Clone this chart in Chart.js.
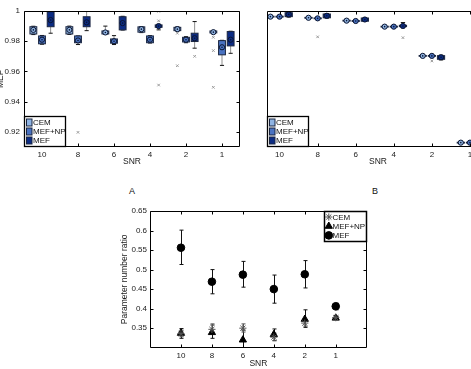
<!DOCTYPE html>
<html><head><meta charset="utf-8">
<script src="https://cdn.jsdelivr.net/npm/chart.js@4/dist/chart.umd.min.js"></script>
<style>
html,body{margin:0;padding:0;background:#fff;width:471px;height:369px;overflow:hidden;position:relative;font-family:"Liberation Sans",Arial,sans-serif;}
.pane{position:absolute;}
.pane canvas{display:block;}
.lab{position:absolute;font-size:9px;color:#111;transform:translate(-50%,-50%);}
</style></head><body>
<div class="pane" style="left:-4px;top:0;width:254px;height:170px"><canvas id="ca" width="254" height="170"></canvas></div>
<div class="pane" style="left:262px;top:0;width:240px;height:170px"><canvas id="cb" width="240" height="170"></canvas></div>
<div class="pane" style="left:110px;top:200px;width:270px;height:169px"><canvas id="cc" width="270" height="169"></canvas></div>
<div class="lab" style="left:132px;top:191px">A</div>
<div class="lab" style="left:375px;top:191px">B</div>
<script>
// ---------- shared ----------
const snrLabels = ['10','8','6','4','2','1'];
const methodNames = ['CEM','MEF+NP','MEF'];
const methodColors = ['#8fb4e3','#4a73c2','#0c2c84'];

// ---------- Panel A (MEF box plots) ----------
const aYTicks = [0.92,0.94,0.96,0.98,1];
const aCemQ1  = [0.9848,0.9848,0.9848,0.9860,0.9870,0.9855];
const aCemMed = [0.9875,0.9875,0.9858,0.9880,0.9880,0.9860];
const aCemQ3  = [0.9896,0.9896,0.9868,0.9895,0.9892,0.9868];
const aCemLo  = [0.9844,0.9845,0.9845,0.9857,0.9867,0.9851];
const aCemHi  = [0.9899,0.9900,0.9900,0.9897,0.9895,0.9871];
const aCemOut = [[],[],[],[],[0.9853,0.9638],[0.9826,0.9738,0.9495]];

const aNpQ1  = [0.9783,0.9790,0.9787,0.9790,0.9795,0.9710];
const aNpMed = [0.9810,0.9805,0.9800,0.9810,0.9810,0.9760];
const aNpQ3  = [0.9835,0.9835,0.9815,0.9835,0.9826,0.9804];
const aNpLo  = [0.9780,0.9778,0.9778,0.9788,0.9790,0.9640];
const aNpHi  = [0.9838,0.9835,0.9837,0.9837,0.9830,0.9806];
const aNpOut = [[],[0.9197],[],[],[],[]];

const aMefQ1  = [0.9896,0.9896,0.9875,0.9892,0.9798,0.9769];
const aMefMed = [0.9940,0.9925,0.9920,0.9900,0.9820,0.9810];
const aMefQ3  = [0.9995,0.9962,0.9962,0.9908,0.9853,0.9864];
const aMefLo  = [0.9853,0.9870,0.9874,0.9875,0.9754,0.9720];
const aMefHi  = [1.0000,0.9998,0.9965,0.9912,0.9930,0.9866];
const aMefOut = [[],[],[],[0.9998,0.9935,0.9510],[0.9700],[]];

// ---------- Panel B (box plots, no y labels) ----------
const bCemQ1  = [0.9911,0.9894,0.9852,0.9764,0.9334,0.8058];
const bCemMed = [0.9917,0.9900,0.9858,0.9770,0.9340,0.8064];
const bCemQ3  = [0.9923,0.9906,0.9864,0.9776,0.9346,0.8070];
const bCemLo  = [0.9905,0.9888,0.9846,0.9758,0.9328,0.8052];
const bCemHi  = [0.9929,0.9912,0.9870,0.9782,0.9352,0.8076];
const bCemOut = [[],[],[],[],[],[]];

const bNpQ1  = [0.9911,0.9886,0.9847,0.9764,0.9334,0.8058];
const bNpMed = [0.9917,0.9892,0.9853,0.9770,0.9340,0.8064];
const bNpQ3  = [0.9923,0.9898,0.9859,0.9776,0.9346,0.8070];
const bNpLo  = [0.9905,0.9880,0.9841,0.9758,0.9328,0.8052];
const bNpHi  = [0.9929,0.9904,0.9865,0.9782,0.9352,0.8076];
const bNpOut = [[],[0.9620],[],[],[0.9265],[]];

const bMefQ1  = [0.9917,0.9900,0.9850,0.9770,0.9290,0.8040];
const bMefMed = [0.9950,0.9930,0.9875,0.9780,0.9320,0.8060];
const bMefQ3  = [0.9975,0.9956,0.9897,0.9790,0.9343,0.8080];
const bMefLo  = [0.9910,0.9895,0.9848,0.9755,0.9280,0.8030];
const bMefHi  = [0.9980,0.9960,0.9900,0.9830,0.9350,0.8090];
const bMefOut = [[],[],[],[0.9608],[],[]];

// ---------- Panel C (parameter number ratio) ----------
const cYTicks = [0.35,0.4,0.45,0.5,0.55,0.6,0.65];
const cCem   = [0.336,0.347,0.350,0.327,0.363,0.377];
const cCemLo = [0.328,0.338,0.340,0.318,0.355,0.373];
const cCemHi = [0.345,0.361,0.361,0.337,0.372,0.381];
const cNp    = [0.337,0.339,0.320,0.334,0.373,0.376];
const cNpLo  = [0.324,0.324,0.296,0.318,0.352,0.372];
const cNpHi  = [0.349,0.358,0.345,0.348,0.397,0.380];
const cMef   = [0.556,0.469,0.487,0.450,0.488,0.406];
const cMefLo = [0.513,0.438,0.455,0.414,0.453,0.397];
const cMefHi = [0.601,0.500,0.521,0.486,0.523,0.414];

// ---------- helpers ----------
const FAMILY = '"Liberation Sans", Arial, Helvetica, sans-serif';
Chart.defaults.font.family = FAMILY;
Chart.defaults.font.size = 8;
Chart.defaults.color = '#1a1a1a';
const catPositions = snrLabels.map((_, i) => i + 1);
const fixedTicks = vals => scale => { scale.ticks = vals.map(v => ({value: v})); };
const fmtNum = v => String(+(+v).toFixed(2));
const snrOf = v => { const k = Math.round(v) - 1; return Math.abs(v - k - 1) < 1e-6 && snrLabels[k] !== undefined ? snrLabels[k] : ''; };

function framePlugin(xVals, yVals, len) {
  return { id: 'frame', afterDatasetsDraw(chart) {
    const {ctx, chartArea: a, scales: {x, y}} = chart;
    const L = Math.round(a.left) + 0.5, R = Math.round(a.right) - 0.5;
    const T = Math.round(a.top) + 0.5, B = Math.round(a.bottom) - 0.5;
    ctx.save();
    ctx.strokeStyle = '#000'; ctx.lineWidth = 1;
    ctx.beginPath(); ctx.rect(L, T, R - L, B - T); ctx.stroke();
    ctx.beginPath();
    xVals.forEach(v => { const p = Math.round(x.getPixelForValue(v)) + 0.5;
      ctx.moveTo(p, B); ctx.lineTo(p, B - len); ctx.moveTo(p, T); ctx.lineTo(p, T + len); });
    yVals.forEach(v => { const p = Math.round(y.getPixelForValue(v)) + 0.5;
      ctx.moveTo(L, p); ctx.lineTo(L + len, p); ctx.moveTo(R, p); ctx.lineTo(R - len, p); });
    ctx.stroke();
    ctx.restore();
  }};
}

function boxPlugin(series, offsets, boxW) {
  return { id: 'boxes',
    beforeDatasetsDraw(chart) {
      const {ctx, chartArea: a, scales: {x, y}} = chart;
      const half = Math.abs(x.getPixelForValue(1 + boxW / 2) - x.getPixelForValue(1));
      ctx.save();
      ctx.beginPath(); ctx.rect(a.left, a.top, a.width, a.height); ctx.clip();
      series.forEach((s, si) => s.med.forEach((m, i) => {
        const cx = x.getPixelForValue(i + 1 + offsets[si]);
        const yq1 = y.getPixelForValue(s.q1[i]), yq3 = y.getPixelForValue(s.q3[i]);
        const ylo = y.getPixelForValue(s.lo[i]), yhi = y.getPixelForValue(s.hi[i]);
        ctx.lineWidth = 1;
        ctx.strokeStyle = '#8f8f8f';
        ctx.beginPath(); ctx.moveTo(cx, yhi); ctx.lineTo(cx, yq3); ctx.moveTo(cx, yq1); ctx.lineTo(cx, ylo); ctx.stroke();
        ctx.strokeStyle = '#111';
        const cw = half * 0.6;
        ctx.beginPath(); ctx.moveTo(cx - cw, yhi); ctx.lineTo(cx + cw, yhi); ctx.moveTo(cx - cw, ylo); ctx.lineTo(cx + cw, ylo); ctx.stroke();
        ctx.fillStyle = s.color;
        ctx.fillRect(cx - half, yq3, 2 * half, Math.max(yq1 - yq3, 1));
        ctx.strokeStyle = '#1b2640';
        ctx.strokeRect(cx - half, yq3, 2 * half, Math.max(yq1 - yq3, 0.5));
      }));
      ctx.restore();
    },
    afterDatasetsDraw(chart) {
      const {ctx, scales: {x, y}} = chart;
      ctx.save(); ctx.fillStyle = '#0b1530';
      series.forEach((s, si) => s.med.forEach((m, i) => {
        ctx.beginPath(); ctx.arc(x.getPixelForValue(i + 1 + offsets[si]), y.getPixelForValue(m), 0.8, 0, Math.PI * 2); ctx.fill();
      }));
      ctx.restore();
    }
  };
}

function boxLegendPlugin(series) {
  return { id: 'boxLegend', afterDraw(chart) {
    const {ctx, chartArea: a} = chart;
    const x0 = Math.round(a.left) + 0.5, w = 41, h = 30, y0 = Math.round(a.bottom) - h - 0.5;
    ctx.save();
    ctx.fillStyle = '#fff'; ctx.fillRect(x0, y0, w, h);
    ctx.strokeStyle = '#000'; ctx.lineWidth = 1.3; ctx.strokeRect(x0, y0, w, h);
    ctx.font = '8px ' + FAMILY; ctx.textBaseline = 'middle'; ctx.textAlign = 'left';
    series.forEach((s, k) => {
      const cy = y0 + 6 + k * 9;
      ctx.fillStyle = s.color; ctx.fillRect(x0 + 2, cy - 3.5, 5.5, 7);
      ctx.strokeStyle = '#1b2640'; ctx.lineWidth = 1; ctx.strokeRect(x0 + 2, cy - 3.5, 5.5, 7);
      ctx.fillStyle = '#111'; ctx.fillText(s.name, x0 + 8.5, cy + 0.5);
    });
    ctx.restore();
  }};
}

function makeSeries(names, colors, q1s, meds, q3s, los, his, outs) {
  return names.map((n, k) => ({name: n, color: colors[k], q1: q1s[k], med: meds[k], q3: q3s[k], lo: los[k], hi: his[k], out: outs[k]}));
}

function boxChart(id, series, cfg) {
  const offsets = [-0.24, 0, 0.24];
  const datasets = series.map((s, si) => ({
    label: s.name,
    data: s.med.map((v, i) => ({x: i + 1 + offsets[si], y: v})),
    pointStyle: 'circle', pointRadius: 2.6, pointBackgroundColor: s.color,
    pointBorderColor: '#0b1530', pointBorderWidth: 1
  }));
  const outliers = [];
  series.forEach((s, si) => s.out.forEach((arr, i) => arr.forEach(v => outliers.push({x: i + 1 + offsets[si], y: v}))));
  datasets.push({label: 'outliers', data: outliers, pointStyle: 'crossRot', pointRadius: 1.8,
    pointBorderColor: '#9a9a9a', pointBackgroundColor: '#9a9a9a', pointBorderWidth: 1});
  return new Chart(document.getElementById(id), {
    type: 'scatter',
    data: {datasets},
    options: {
      responsive: false, animation: false, devicePixelRatio: 1, events: [],
      layout: {padding: cfg.padding},
      plugins: {legend: {display: false}, tooltip: {enabled: false}},
      scales: {
        x: {type: 'linear', min: cfg.xMin, max: cfg.xMax,
          grid: {display: false, drawTicks: false}, border: {display: false},
          afterBuildTicks: fixedTicks(catPositions),
          afterFit: s => { s.height = cfg.xHeight; },
          ticks: {padding: 3, autoSkip: false, maxRotation: 0, callback: snrOf, color: '#1a1a1a'},
          title: {display: true, text: 'SNR', padding: 0, font: {size: 8.5}, color: '#1a1a1a'}},
        y: {type: 'linear', min: cfg.yMin, max: cfg.yMax, display: cfg.yDisplay,
          grid: {display: false, drawTicks: false}, border: {display: false},
          afterBuildTicks: fixedTicks(cfg.yTicks),
          afterFit: s => { s.width = cfg.yWidth; },
          ticks: {padding: 4, autoSkip: false, callback: fmtNum, color: '#1a1a1a'},
          title: {display: !!cfg.yTitle, text: cfg.yTitle || '', padding: 0, font: {size: 8.5}, color: '#1a1a1a'}}
      }
    },
    plugins: [boxPlugin(series, offsets, 0.19), framePlugin(catPositions, cfg.frameY, 3), boxLegendPlugin(series)]
  });
}

// ---------- Panel A ----------
const seriesA = makeSeries(methodNames, methodColors,
  [aCemQ1, aNpQ1, aMefQ1], [aCemMed, aNpMed, aMefMed], [aCemQ3, aNpQ3, aMefQ3],
  [aCemLo, aNpLo, aMefLo], [aCemHi, aNpHi, aMefHi], [aCemOut, aNpOut, aMefOut]);
boxChart('ca', seriesA, {padding: {left: 0, top: 11, right: 10, bottom: 3},
  xMin: 0.5, xMax: 6.5, yMin: 0.91, yMax: 1, yTicks: aYTicks, frameY: aYTicks,
  yDisplay: true, yWidth: 28, xHeight: 20, yTitle: 'MEF'});

// ---------- Panel B ----------
const seriesB = makeSeries(methodNames, methodColors,
  [bCemQ1, bNpQ1, bMefQ1], [bCemMed, bNpMed, bMefMed], [bCemQ3, bNpQ3, bMefQ3],
  [bCemLo, bNpLo, bMefLo], [bCemHi, bNpHi, bMefHi], [bCemOut, bNpOut, bMefOut]);
boxChart('cb', seriesB, {padding: {left: 5, top: 11, right: 13, bottom: 3},
  xMin: 0.67, xMax: 6.5, yMin: 0.8, yMax: 1, yTicks: [], frameY: [],
  yDisplay: false, yWidth: 0, xHeight: 20, yTitle: ''});

// ---------- Panel C ----------
const cSeries = [
  {name: 'CEM', v: cCem, lo: cCemLo, hi: cCemHi, style: 'star', r: 3.6, fill: '#555', stroke: '#555', bar: '#555'},
  {name: 'MEF+NP', v: cNp, lo: cNpLo, hi: cNpHi, style: 'triangle', r: 4.2, fill: '#000', stroke: '#000', bar: '#111'},
  {name: 'MEF', v: cMef, lo: cMefLo, hi: cMefHi, style: 'circle', r: 3.8, fill: '#000', stroke: '#000', bar: '#111'}
];
const errPlugin = { id: 'errbars', beforeDatasetsDraw(chart) {
  const {ctx, chartArea: a, scales: {x, y}} = chart;
  ctx.save(); ctx.beginPath(); ctx.rect(a.left, a.top, a.width, a.height); ctx.clip();
  ctx.lineWidth = 1;
  cSeries.slice().reverse().forEach(s => {
    ctx.strokeStyle = s.bar;
    s.v.forEach((v, i) => {
      const px = Math.round(x.getPixelForValue(i + 1)) + 0.5;
      const yl = y.getPixelForValue(s.lo[i]), yh = y.getPixelForValue(s.hi[i]);
      ctx.beginPath(); ctx.moveTo(px, yl); ctx.lineTo(px, yh);
      ctx.moveTo(px - 2, yl); ctx.lineTo(px + 2, yl); ctx.moveTo(px - 2, yh); ctx.lineTo(px + 2, yh); ctx.stroke();
    });
  });
  ctx.restore();
}};
const cLegendPlugin = { id: 'cLegend', afterDraw(chart) {
  const {ctx, chartArea: a} = chart;
  const w = 42, h = 30, x0 = Math.round(a.right) - w - 0.5, y0 = Math.round(a.top) + 0.5;
  ctx.save();
  ctx.fillStyle = '#fff'; ctx.fillRect(x0, y0, w, h);
  ctx.strokeStyle = '#000'; ctx.lineWidth = 1.5; ctx.strokeRect(x0, y0, w, h);
  ctx.font = '8px ' + FAMILY; ctx.textBaseline = 'middle'; ctx.textAlign = 'left';
  cSeries.forEach((s, k) => {
    const cy = y0 + 5.5 + k * 9.2;
    ctx.fillStyle = s.fill; ctx.strokeStyle = s.stroke; ctx.lineWidth = 1;
    Chart.helpers.drawPoint(ctx, {pointStyle: s.style, radius: s.r, rotation: 0, borderWidth: 1}, x0 + 4.3, cy);
    ctx.fillStyle = '#111'; ctx.fillText(s.name, x0 + 8, cy + 0.5);
  });
  ctx.restore();
}};
new Chart(document.getElementById('cc'), {
  type: 'scatter',
  data: {datasets: cSeries.map(s => ({
    label: s.name, data: s.v.map((v, i) => ({x: i + 1, y: v})),
    pointStyle: s.style, pointRadius: s.r, pointBackgroundColor: s.fill,
    pointBorderColor: s.stroke, pointBorderWidth: 1
  }))},
  options: {
    responsive: false, animation: false, devicePixelRatio: 1, events: [],
    layout: {padding: {left: 10, top: 11, right: 13.3, bottom: 0}},
    plugins: {legend: {display: false}, tooltip: {enabled: false}},
    scales: {
      x: {type: 'linear', min: 0, max: 7,
        grid: {display: false, drawTicks: false}, border: {display: false},
        afterBuildTicks: fixedTicks(catPositions),
        afterFit: s => { s.height = 21.3; },
        ticks: {padding: 3, autoSkip: false, maxRotation: 0, callback: snrOf, color: '#1a1a1a'},
        title: {display: true, text: 'SNR', padding: 0, font: {size: 8.5}, color: '#1a1a1a'}},
      y: {type: 'linear', min: 0.3, max: 0.65,
        grid: {display: false, drawTicks: false}, border: {display: false},
        afterBuildTicks: fixedTicks(cYTicks),
        afterFit: s => { s.width = 30; },
        ticks: {padding: 3, autoSkip: false, callback: fmtNum, color: '#1a1a1a'},
        title: {display: true, text: 'Parameter number ratio', padding: 0, font: {size: 8.5}, color: '#1a1a1a'}}
    }
  },
  plugins: [errPlugin, framePlugin(catPositions, cYTicks, 3), cLegendPlugin]
});
</script>
</body></html>
